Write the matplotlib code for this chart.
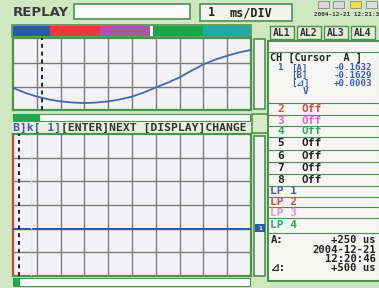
import matplotlib
matplotlib.use('Agg')
import matplotlib.pyplot as plt
from matplotlib.patches import Rectangle

W, H = 379, 288

# upper trace (CH1), time in ms, value in V
t_upper = [0, 0.5, 1, 1.5, 2, 2.5, 3, 3.5, 4, 4.5, 5, 5.5, 6, 6.5, 7, 7.5, 8, 8.5, 9, 9.5, 10]
v_upper = [-0.104, -0.124, -0.140, -0.152, -0.160, -0.165, -0.167, -0.165, -0.160, -0.152,
           -0.140, -0.123, -0.102, -0.082, -0.060, -0.032, -0.006, 0.014, 0.030, 0.044, 0.054]
cursor_upper = 1.2

# lower trace (logic / zoom view)
t_lower = [0, 1, 2, 3, 4, 5, 6, 7, 8, 9, 10]
v_lower = [0, 0, 0, 0, 0, 0, 0, 0, 0, 0, 0]
cursor_lower_a = 0.25
cursor_lower_b = 0.76

ch_names = ['2', '3', '4', '5', '6', '7', '8']
ch_states = ['Off'] * 7
ch_colors = ['#e04848', '#d070c8', '#30a858', '#222222', '#222222', '#222222', '#222222']
lp_names = ['LP 1', 'LP 2', 'LP 3', 'LP 4']
lp_colors = ['#3a5cb8', '#e04848', '#d89ad0', '#30a858']
cursor_rows = [('1', '[A]', '-0.1632'), ('', '[B]', '-0.1629'), ('', '[⊿]', '+0.0003')]
alarm_labels = ['AL1', 'AL2', 'AL3', 'AL4']
bar_colors = ['#2a58b0', '#e83a3a', '#b050b0', '#ffffff', '#18a848', '#20a8a8']
bar_edges = [13, 50, 100, 150, 153, 203, 250]

BG = '#cfe8c2'
FRAME = '#4e9150'
PANEL = '#f6f6f4'
GRIDC = '#7c7c7c'
BLUE = '#3a5cb8'
MONO = ['DejaVu Sans Mono', 'DejaVu Sans', 'Noto Sans CJK JP']

fig = plt.figure(figsize=(W / 100, H / 100), dpi=100)
fig.patch.set_facecolor(BG)
bg = fig.add_axes([0, 0, 1, 1])
bg.set_xlim(0, W)
bg.set_ylim(H, 0)
bg.axis('off')


def box(x0, y0, x1, y1, fc, ec=FRAME, lw=1.2, z=1):
    bg.add_patch(Rectangle((x0, y0), x1 - x0, y1 - y0, facecolor=fc, edgecolor=ec, lw=lw, zorder=z))


def txt(x, y, s, size=7.8, color='#222222', ha='left', weight='bold', family=MONO):
    bg.text(x, y, s, fontsize=size, color=color, ha=ha, va='center', fontweight=weight,
            family=family, zorder=5)


def px_axes(x0, y0, x1, y1):
    return fig.add_axes([x0 / W, 1 - y1 / H, (x1 - x0) / W, (y1 - y0) / H])


# header
txt(13, 12, 'REPLAY', size=9.5, color='#3a3a3a', family=['DejaVu Sans'])
box(74, 4, 190, 19, '#fbfbfb')
box(200, 4, 292, 21, '#f4f4f0')
txt(208, 13, '1', size=8.5)
txt(230, 13, 'ms/DIV', size=8.5)
for x0, fc in zip([318, 333, 350, 366], ['#d8d8d8', '#d8d8d8', '#f0e040', '#e0e0e0']):
    box(x0, 1, x0 + 11, 8, fc, ec='#888888', lw=0.6)
txt(379, 15, '2004-12-21 12:21:3', size=4.3, color='#333333', ha='right')

# colour bar above upper plot
box(12, 25, 251, 37, 'none', lw=1.2, z=2)
for i, c in enumerate(bar_colors):
    bg.add_patch(Rectangle((bar_edges[i], 26), bar_edges[i + 1] - bar_edges[i], 10,
                           facecolor=c, edgecolor='none', zorder=1))

# scroll bars and message line
box(13, 114, 250, 121, '#fbfbfb', lw=0.8)
bg.add_patch(Rectangle((13, 114), 27, 7, facecolor='#1aa850', edgecolor='none', zorder=2))
box(12, 122, 252, 133, '#e6f2de', ec='none')
msg_a = 'B]k[ 1]'
msg_b = '[ENTER]NEXT [DISPLAY]CHANGE'
msg_size = 8.2
cw = msg_size * 100 / 72 * 0.602
txt(13, 128, msg_a, size=msg_size, color=BLUE)
txt(13 + cw * len(msg_a), 128, msg_b, size=msg_size, color='#333333')
box(13, 278, 250, 286, '#fbfbfb', lw=0.8)
bg.add_patch(Rectangle((13, 278), 7, 8, facecolor='#1aa850', edgecolor='none', zorder=2))

# side strips
box(254, 39, 265, 109, '#f4f4f2')
box(252, 114, 268, 133, '#d8ecc8')
box(254, 136, 265, 276, '#f4f4f2')
bg.add_patch(Rectangle((255, 224), 10, 8, facecolor='#2a58b0', edgecolor='none', zorder=3))
txt(260, 228, '1', size=4.5, color='white', ha='center')

# right panel
for i, lab in enumerate(alarm_labels):
    x0 = 270 + i * 27
    box(x0, 26, x0 + 24, 39, '#e2eed8', lw=1.0)
    txt(x0 + 12, 32.5, lab, size=7, color='#333333', ha='center')
box(268, 41, 380, 281, PANEL, lw=1.5)
bg.plot([268, 380], [52, 52], color=FRAME, lw=0.8, zorder=3)
txt(270, 57.5, 'CH [Cursor  A ]', size=7.3)
for k, (ch, lab, val) in enumerate(cursor_rows):
    y = 68 + k * 7.6
    txt(277, y, ch, size=6.6, color=BLUE)
    txt(291, y, lab, size=6.6, color=BLUE)
    txt(372, y, val, size=6.6, color=BLUE, ha='right')
txt(303, 91.5, 'V', size=6.8, color=BLUE)

row_lines = [103, 115, 126, 137, 150, 162, 174, 186, 197, 207, 218, 233]
for y in row_lines:
    bg.plot([268, 380], [y, y], color=FRAME, lw=0.8, zorder=3)
for i, (nm, st, c) in enumerate(zip(ch_names, ch_states, ch_colors)):
    y = (row_lines[i] + row_lines[i + 1]) / 2
    txt(277, y, nm, size=8, color=c)
    txt(302, y, st, size=8, color=c)
for i, (nm, c) in enumerate(zip(lp_names, lp_colors)):
    y = (row_lines[7 + i] + row_lines[8 + i]) / 2
    txt(270, y, nm, size=8, color=c)
txt(271, 240, 'A:', size=7.6)
txt(376, 240, '+250 us', size=7.6, ha='right')
txt(376, 250, '2004-12-21', size=7.6, ha='right')
txt(376, 259, '12:20:46', size=7.6, ha='right')
txt(271, 268, '⊿:', size=7.6)
txt(376, 268, '+500 us', size=7.6, ha='right')


def scope_axes(ax, ylim, yt):
    ax.set_facecolor('#f3f3f5')
    ax.set_xlim(0, 10)
    ax.set_ylim(*ylim)
    ax.set_xticks(range(1, 10))
    ax.set_yticks(yt)
    ax.grid(True, color=GRIDC, lw=1.0)
    ax.tick_params(length=0, labelbottom=False, labelleft=False)
    for s in ax.spines.values():
        s.set_color(FRAME)
        s.set_linewidth(1.6)


up = px_axes(13, 38, 251, 110)
scope_axes(up, (-0.196, 0.104), [-0.1, 0])
up.plot(t_upper, v_upper, color='#4a64b0', lw=1.3, zorder=3)
up.axvline(cursor_upper, color='#222222', lw=1.4, ls=(0, (2, 2)), zorder=4)

lo = px_axes(13, 134, 251, 276)
scope_axes(lo, (-2, 4), [-1, 1, 2, 3, 0])
lo.spines['left'].set_color('#d04030')
lo.plot(t_lower, v_lower, color='#2a58b0', lw=1.4, zorder=3)
lo.axvline(cursor_lower_a, color='#222222', lw=1.4, ls=(0, (2, 2)), zorder=4)
lo.axvline(cursor_lower_b, color='#dddddd', lw=1.0, ls=(0, (1, 1)), zorder=4)

fig.savefig('out.png', dpi=100, facecolor=BG)
